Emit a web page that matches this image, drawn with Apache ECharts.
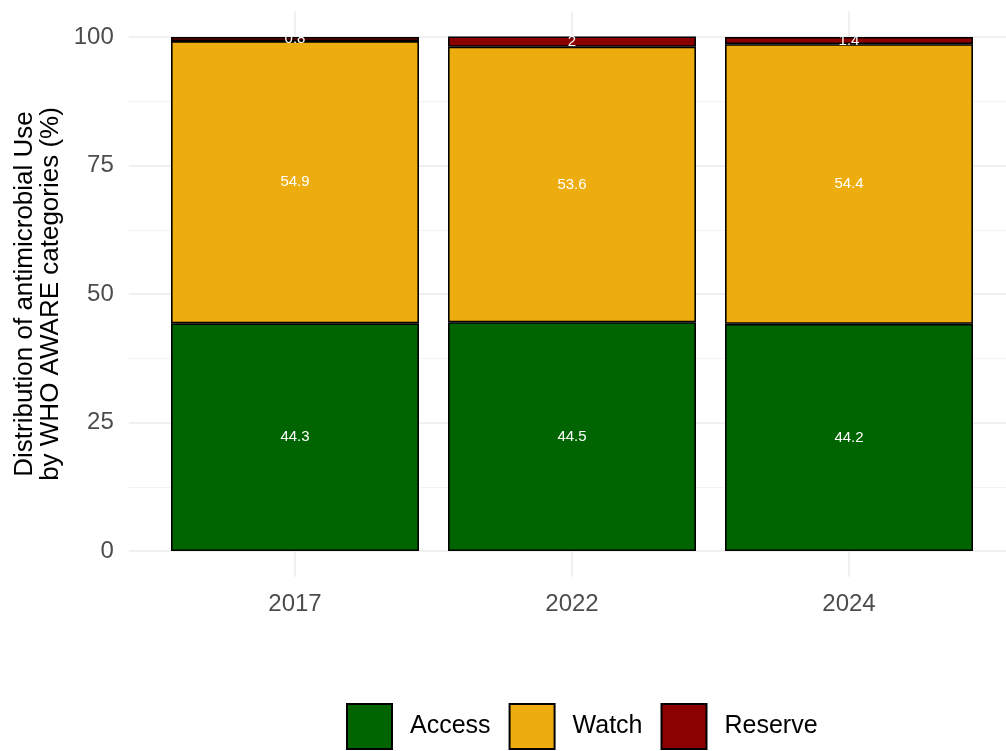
<!DOCTYPE html>
<html><head><meta charset="utf-8">
<script src="https://cdn.jsdelivr.net/npm/echarts@6/dist/echarts.min.js"></script>
<style>html,body{margin:0;padding:0;background:#fff}#c{width:1006px;height:751px}</style>
</head><body><div id="c"></div>
<script>
const years = ['2017', '2022', '2024'];
const access = [44.3, 44.5, 44.2];
const watch = [54.9, 53.6, 54.4];
const reserve = [0.8, 2, 1.4];
const yTicks = [0, 25, 50, 75, 100];
const yMinor = [12.5, 37.5, 62.5, 87.5];
const seriesNames = ['Access', 'Watch', 'Reserve'];
const seriesColors = ['#006400', '#EEAD0E', '#8B0000'];
const yTitle = 'Distribution of antimicrobial Use\nby WHO AWARE categories (%)';

const xPos = years.map((y, i) => i + 1);
const font = '"Liberation Sans", Arial, sans-serif';

function mk(idx, vals) {
  return {
    name: seriesNames[idx], type: 'bar', stack: 's', barWidth: 248,
    xAxisIndex: 1, yAxisIndex: 2,
    data: vals,
    itemStyle: { color: seriesColors[idx], borderColor: '#000', borderWidth: 1.6 },
    label: { show: true, position: 'inside', color: '#fff', fontSize: 15, fontFamily: font,
      formatter: p => String(p.value) }
  };
}

// panel: ggplot discrete expansion 0.6 on each side, y range -5..105
const panelLeft = 128.8, panelWidth = 886.4, panelTop = 11.3, panelHeight = 565.4;
const band = panelWidth / 3.2;

const chart = echarts.init(document.getElementById('c'));
chart.setOption({
  animation: false,
  backgroundColor: '#fff',
  grid: [
    { left: panelLeft, top: panelTop, width: panelWidth, height: panelHeight, containLabel: false, outerBoundsMode: 'none' },
    { left: panelLeft + 0.1 * band, top: panelTop, width: 3 * band, height: panelHeight, containLabel: false, outerBoundsMode: 'none' }
  ],
  xAxis: [{
    type: 'value', min: 0.4, max: 3.6, gridIndex: 0,
    axisLine: { show: false },
    axisTick: { show: false, customValues: xPos },
    axisLabel: { customValues: xPos, formatter: v => years[Math.round(v) - 1], fontSize: 24, color: '#4D4D4D', margin: 16, fontFamily: font },
    splitLine: { show: true, lineStyle: { color: '#EBEBEB', width: 1.5 } }
  }, {
    type: 'category', data: years, gridIndex: 1,
    axisLine: { show: false }, axisTick: { show: false }, axisLabel: { show: false }, splitLine: { show: false }
  }],
  yAxis: [{
    type: 'value', min: -5, max: 105, gridIndex: 0,
    axisLine: { show: false },
    axisTick: { show: false, customValues: yTicks },
    axisLabel: { customValues: yTicks, fontSize: 24, color: '#4D4D4D', margin: 15, fontFamily: font },
    splitLine: { show: true, lineStyle: { color: '#EBEBEB', width: 1.5 } }
  }, {
    type: 'value', min: -5, max: 105, position: 'left', gridIndex: 0,
    axisLine: { show: false },
    axisTick: { show: false, customValues: yMinor },
    axisLabel: { show: false, customValues: yMinor },
    splitLine: { show: true, lineStyle: { color: '#F3F3F3', width: 1 } }
  }, {
    type: 'value', min: -5, max: 105, gridIndex: 1,
    axisLine: { show: false }, axisTick: { show: false }, axisLabel: { show: false }, splitLine: { show: false }
  }],
  legend: {
    left: 346, top: 703, orient: 'horizontal', padding: 0,
    itemWidth: 45, itemHeight: 45, itemGap: 18,
    icon: 'rect',
    data: seriesNames,
    textStyle: { fontSize: 25, color: '#000', fontFamily: font, padding: [12, 0, 0, 13] }
  },
  graphic: [{
    type: 'text', x: 38, y: 294, rotation: Math.PI / 2,
    style: { text: yTitle, fill: '#000', font: '26px ' + font, align: 'center', verticalAlign: 'middle', lineHeight: 26 }
  }],
  series: [mk(0, access), mk(1, watch), mk(2, reserve)]
});
</script></body></html>
